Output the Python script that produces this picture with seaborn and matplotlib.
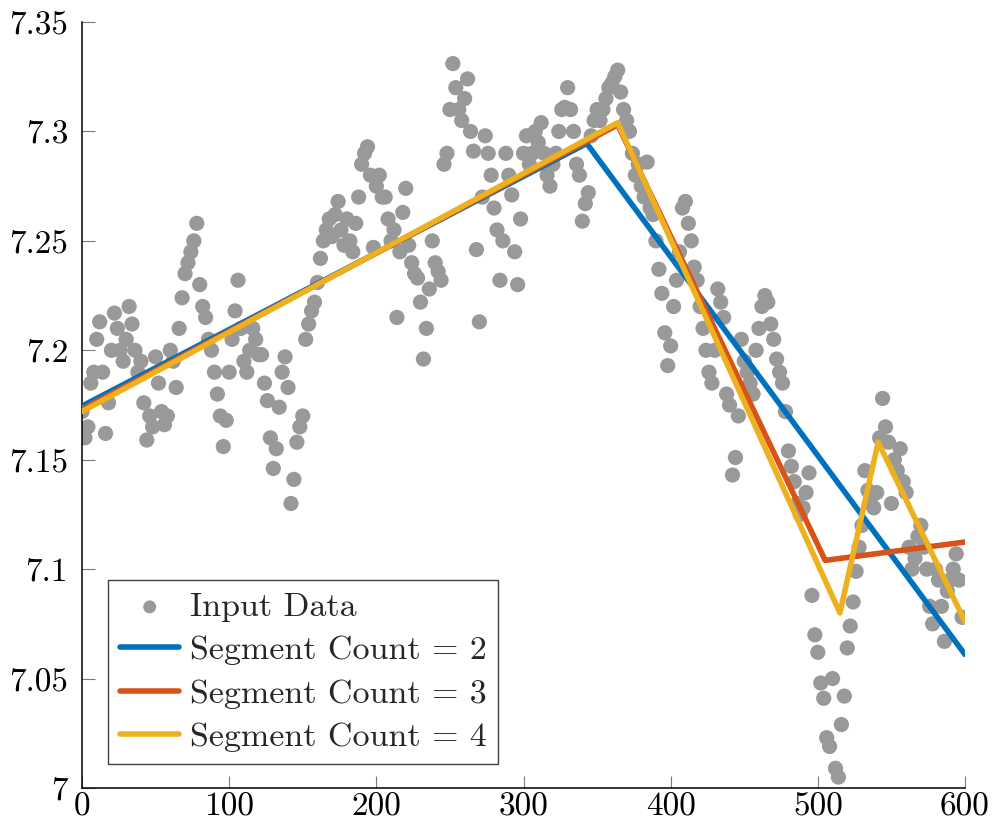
import numpy as np
import pandas as pd
import matplotlib
matplotlib.use("Agg")
import matplotlib.pyplot as plt
import seaborn as sns
from matplotlib.ticker import FixedLocator, FuncFormatter

# ---------------- data ----------------
x_step = 2
input_y = [
    7.172, 7.160, 7.165, 7.185, 7.190,
    7.205, 7.213, 7.190, 7.162, 7.176,
    7.200, 7.217, 7.210, 7.200, 7.195,
    7.205, 7.220, 7.212, 7.200, 7.190,
    7.195, 7.176, 7.159, 7.170, 7.165,
    7.197, 7.185, 7.172, 7.166, 7.170,
    7.200, 7.195, 7.183, 7.210, 7.224,
    7.235, 7.240, 7.245, 7.250, 7.258,
    7.230, 7.220, 7.215, 7.205, 7.200,
    7.190, 7.180, 7.170, 7.156, 7.168,
    7.190, 7.205, 7.218, 7.232, 7.210,
    7.195, 7.190, 7.200, 7.210, 7.205,
    7.198, 7.198, 7.185, 7.177, 7.160,
    7.146, 7.155, 7.174, 7.190, 7.197,
    7.183, 7.130, 7.141, 7.158, 7.165,
    7.170, 7.205, 7.212, 7.218, 7.222,
    7.231, 7.242, 7.250, 7.255, 7.260,
    7.252, 7.262, 7.268, 7.255, 7.248,
    7.260, 7.250, 7.245, 7.258, 7.270,
    7.285, 7.290, 7.293, 7.280, 7.247,
    7.275, 7.280, 7.270, 7.270, 7.260,
    7.250, 7.255, 7.215, 7.245, 7.263,
    7.274, 7.248, 7.240, 7.235, 7.233,
    7.222, 7.196, 7.210, 7.228, 7.250,
    7.240, 7.236, 7.232, 7.285, 7.290,
    7.310, 7.331, 7.320, 7.310, 7.305,
    7.315, 7.324, 7.300, 7.291, 7.246,
    7.213, 7.270, 7.298, 7.290, 7.280,
    7.265, 7.255, 7.232, 7.250, 7.290,
    7.280, 7.271, 7.245, 7.230, 7.260,
    7.290, 7.298, 7.285, 7.290, 7.300,
    7.295, 7.304, 7.290, 7.280, 7.275,
    7.285, 7.290, 7.300, 7.310, 7.311,
    7.320, 7.310, 7.300, 7.285, 7.280,
    7.259, 7.267, 7.272, 7.298, 7.305,
    7.310, 7.305, 7.310, 7.315, 7.320,
    7.322, 7.325, 7.328, 7.318, 7.310,
    7.305, 7.300, 7.290, 7.280, 7.285,
    7.275, 7.270, 7.286, 7.265, 7.262,
    7.250, 7.237, 7.226, 7.208, 7.193,
    7.202, 7.220, 7.232, 7.245, 7.265,
    7.268, 7.258, 7.250, 7.238, 7.232,
    7.220, 7.210, 7.200, 7.190, 7.185,
    7.200, 7.228, 7.222, 7.215, 7.180,
    7.175, 7.143, 7.151, 7.170, 7.205,
    7.195, 7.190, 7.185, 7.180, 7.200,
    7.210, 7.220, 7.225, 7.222, 7.212,
    7.205, 7.196, 7.190, 7.185, 7.172,
    7.154, 7.147, 7.140, 7.130, 7.125,
    7.128, 7.135, 7.144, 7.088, 7.070,
    7.062, 7.048, 7.041, 7.023, 7.019,
    7.050, 7.009, 7.005, 7.029, 7.042,
    7.064, 7.074, 7.085, 7.099, 7.110,
    7.120, 7.145, 7.136, 7.130, 7.128,
    7.135, 7.160, 7.178, 7.165, 7.158,
    7.130, 7.150, 7.145, 7.155, 7.140,
    7.135, 7.110, 7.100, 7.105, 7.115,
    7.120, 7.110, 7.100, 7.083, 7.075,
    7.100, 7.095, 7.083, 7.067, 7.090,
    7.095, 7.100, 7.107, 7.095, 7.078,
]
input_x = list(range(0, x_step * len(input_y), x_step))

seg2_x = [0, 343, 600]
seg2_y = [7.1745, 7.2945, 7.061]
seg3_x = [0, 364, 505, 600]
seg3_y = [7.173, 7.303, 7.104, 7.1124]
seg4_x = [0, 364, 515, 541, 600]
seg4_y = [7.172, 7.304, 7.080, 7.158, 7.076]

labels = ["Input Data", "Segment Count = 2", "Segment Count = 3", "Segment Count = 4"]
x_ticks = [0, 100, 200, 300, 400, 500, 600]
y_ticks = [7.0, 7.05, 7.1, 7.15, 7.2, 7.25, 7.3, 7.35]

# ---------------- style ----------------
sns.set_style("ticks")
plt.rcParams["font.family"] = ["cmr10", "DejaVu Serif"]
plt.rcParams["mathtext.fontset"] = "cm"
plt.rcParams["axes.unicode_minus"] = False
plt.rcParams["axes.formatter.use_mathtext"] = True

fig = plt.figure(figsize=(9.94, 8.25), dpi=100)
ax = fig.add_axes([82 / 994, 1 - 788 / 825, (965 - 82) / 994, (788 - 22) / 825])

df = pd.DataFrame({"x": input_x, "y": input_y})
sns.scatterplot(data=df, x="x", y="y", ax=ax, color="#999999", s=120,
                linewidth=0, edgecolor="none", label=labels[0], zorder=2)

line_colors = ["#0072BD", "#D95319", "#EDB120"]
for (sx, sy), c, lab in zip([(seg2_x, seg2_y), (seg3_x, seg3_y), (seg4_x, seg4_y)],
                            line_colors, labels[1:]):
    sns.lineplot(x=sx, y=sy, ax=ax, color=c, linewidth=4.0, sort=False,
                 estimator=None, label=lab, zorder=3)

ax.set_xlim(0, 600)
ax.set_ylim(7.0, 7.35)
ax.set_xlabel("")
ax.set_ylabel("")
ax.xaxis.set_major_locator(FixedLocator(x_ticks))
ax.yaxis.set_major_locator(FixedLocator(y_ticks))
ax.xaxis.set_major_formatter(FuncFormatter(lambda v, p: f"{v:g}"))
ax.yaxis.set_major_formatter(FuncFormatter(lambda v, p: f"{v:g}"))
for s in ["top", "right"]:
    ax.spines[s].set_visible(False)
for s in ["left", "bottom"]:
    ax.spines[s].set_color("black")
    ax.spines[s].set_linewidth(1.1)
ax.tick_params(axis="both", direction="in", length=9, width=0.8, color="#7a7a7a",
               labelsize=24, labelcolor="black")
ax.tick_params(axis="y", pad=10)
ax.tick_params(axis="x", pad=3)

leg = ax.legend(loc="lower left", bbox_to_anchor=(26 / 883, 24 / 766), borderaxespad=0,
                fontsize=24.5, frameon=True, fancybox=False, framealpha=1,
                edgecolor="#404040", handlelength=1.75, handletextpad=0.3,
                labelspacing=0.4, borderpad=0.35, markerscale=0.85)
leg.get_frame().set_linewidth(1.0)

fig.savefig("out.png", dpi=100)
